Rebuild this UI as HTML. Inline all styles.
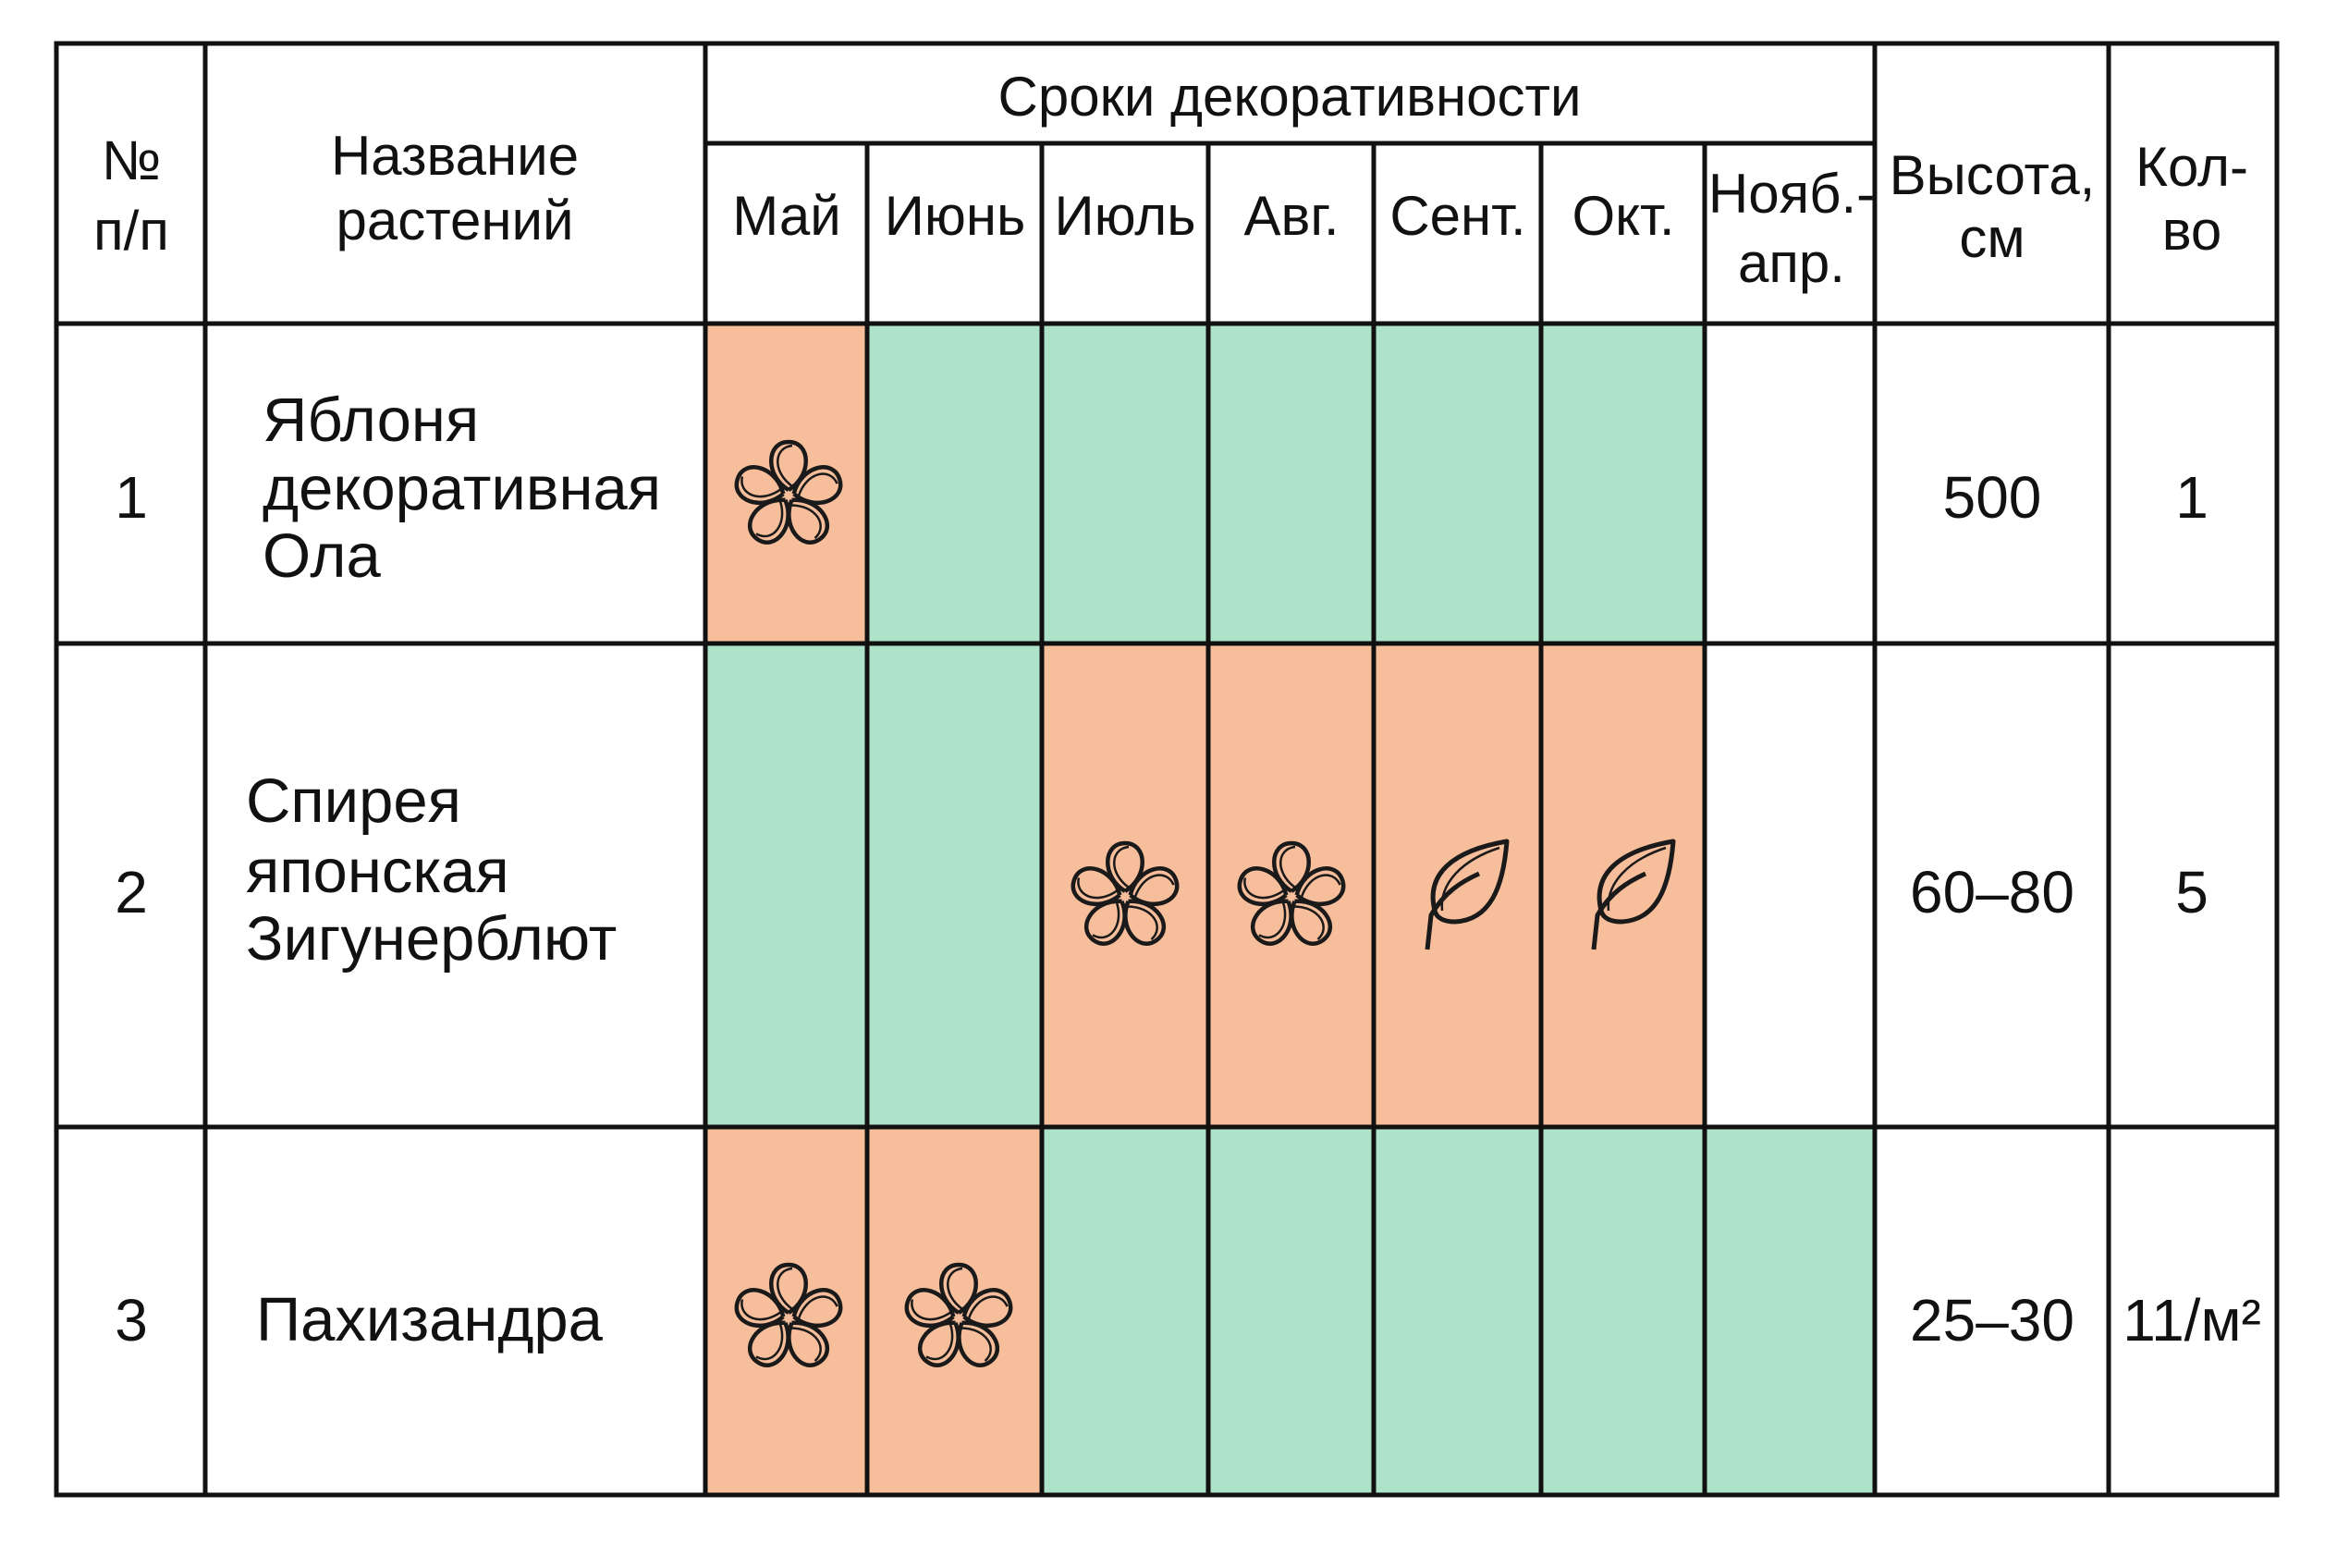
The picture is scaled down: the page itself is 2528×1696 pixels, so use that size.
<!DOCTYPE html>
<html><head><meta charset="utf-8"><style>
html,body{margin:0;padding:0;background:#fff;}
svg{display:block;}
text{font-family:"Liberation Sans","Noto Sans CJK SC",sans-serif;fill:#111;}
</style></head><body>
<svg width="2528" height="1696" viewBox="0 0 2528 1696" xmlns="http://www.w3.org/2000/svg">
<defs>
<g id="fl" fill="none" stroke="#1a1a1a" stroke-width="4.5" stroke-linejoin="round">
  <g id="pt"><path d="M0,-6 C-26,-22 -24,-58 0,-58 C24,-58 26,-22 0,-6"/><path d="M4,-10 C-18,-26 -16,-52 4,-54" stroke-width="2.5"/></g>
  <use href="#pt" transform="rotate(72)"/>
  <use href="#pt" transform="rotate(144)"/>
  <use href="#pt" transform="rotate(216)"/>
  <use href="#pt" transform="rotate(288)"/>
</g>
<g id="lf" fill="none" stroke="#1a1a1a" stroke-width="5" stroke-linejoin="round">
  <path d="M-30,20 C-40,-20 -10,-45 48,-55 C44,-5 30,30 -8,32 C-20,32 -28,28 -30,20 Z"/>
  <path d="M-22,20 C-25,-10 0,-35 40,-48" stroke-width="2.5"/>
  <path d="M-38,62 L-34,25 C-20,0 0,-12 18,-20" stroke-width="5"/>
</g>
</defs>
<g>
<rect x="763" y="350" width="175" height="346" fill="#F7BE9C"/>
<rect x="938" y="350" width="906" height="346" fill="#ADE3C8"/>
<rect x="763" y="696" width="364" height="523" fill="#ADE3C8"/>
<rect x="1127" y="696" width="717" height="523" fill="#F7BE9C"/>
<rect x="763" y="1219" width="364" height="398" fill="#F7BE9C"/>
<rect x="1127" y="1219" width="901" height="398" fill="#ADE3C8"/>
</g>
<g stroke="#111" stroke-width="5" fill="none">
<rect x="61" y="47" width="2402" height="1570"/>
<line x1="222" y1="47" x2="222" y2="1617"/>
<line x1="763" y1="47" x2="763" y2="1617"/>
<line x1="2028" y1="47" x2="2028" y2="1617"/>
<line x1="2281" y1="47" x2="2281" y2="1617"/>
<line x1="763" y1="155" x2="2028" y2="155"/>
<line x1="938" y1="155" x2="938" y2="1617"/>
<line x1="1127" y1="155" x2="1127" y2="1617"/>
<line x1="1307" y1="155" x2="1307" y2="1617"/>
<line x1="1486" y1="155" x2="1486" y2="1617"/>
<line x1="1667" y1="155" x2="1667" y2="1617"/>
<line x1="1844" y1="155" x2="1844" y2="1617"/>
<line x1="61" y1="350" x2="2463" y2="350"/>
<line x1="61" y1="696" x2="2463" y2="696"/>
<line x1="61" y1="1219" x2="2463" y2="1219"/>
</g>
<g font-size="60" text-anchor="middle">
<text x="142" y="194">№</text>
<text x="142" y="270">п/п</text>
<text x="492" y="189">Название</text>
<text x="492" y="259">растений</text>
<text x="1395" y="125">Сроки декоративности</text>
<text x="851" y="254">Май</text>
<text x="1033" y="254">Июнь</text>
<text x="1217" y="254">Июль</text>
<text x="1397" y="254">Авг.</text>
<text x="1577" y="254">Сент.</text>
<text x="1756" y="254">Окт.</text>
<text x="1938" y="230">Нояб.-</text>
<text x="1938" y="305">апр.</text>
<text x="2155" y="210">Высота,</text>
<text x="2155" y="278">см</text>
<text x="2371" y="201">Кол-</text>
<text x="2371" y="270">во</text>
</g>
<g font-size="64">
<text x="142" y="560" text-anchor="middle">1</text>
<text x="2155" y="560" text-anchor="middle">500</text>
<text x="2371" y="560" text-anchor="middle">1</text>
<text x="142" y="987" text-anchor="middle">2</text>
<text x="2155" y="987" text-anchor="middle">60–80</text>
<text x="2371" y="987" text-anchor="middle">5</text>
<text x="142" y="1450" text-anchor="middle">3</text>
<text x="2155" y="1450" text-anchor="middle">25–30</text>
<text x="2371" y="1450" text-anchor="middle">11/м²</text>
</g>
<g font-size="67">
<text x="284" y="477">Яблоня</text>
<text x="284" y="551">декоративная</text>
<text x="284" y="624">Ола</text>
<text x="266" y="889">Спирея</text>
<text x="266" y="965">японская</text>
<text x="266" y="1038">Зигунерблют</text>
<text x="277" y="1450">Пахизандра</text>
</g>
<use href="#fl" x="853" y="536"/>
<use href="#fl" x="1217" y="970"/>
<use href="#fl" x="1397" y="970"/>
<use href="#lf" x="1582" y="965"/>
<use href="#lf" x="1762" y="965"/>
<use href="#fl" x="853" y="1426"/>
<use href="#fl" x="1037" y="1426"/>
</svg>
</body></html>
